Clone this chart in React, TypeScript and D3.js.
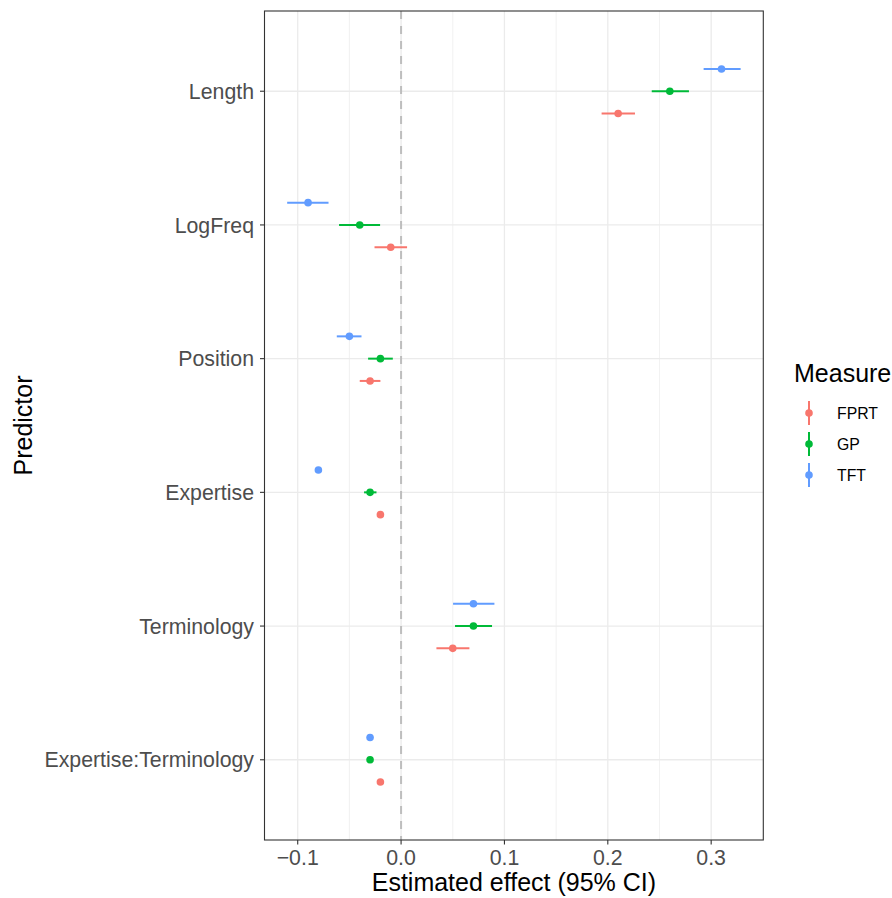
import React from "react";
import * as d3 from "d3";

// Predictors shown on the vertical axis, top to bottom
const predictors = [
  "Length",
  "LogFreq",
  "Position",
  "Expertise",
  "Terminology",
  "Expertise:Terminology",
];

// Eye-tracking measures (legend order)
const measures = ["FPRT", "GP", "TFT"];
const measureColors = ["#F8766D", "#00BA38", "#619CFF"];

// Estimates and 95% CI per measure, in predictor order
const fprtEst = [0.21, -0.01, -0.03, -0.02, 0.05, -0.02];
const fprtLow = [0.194, -0.0257, -0.04, -0.022, 0.0342, -0.022];
const fprtHigh = [0.2263, 0.0058, -0.02, -0.018, 0.0661, -0.018];

const gpEst = [0.26, -0.04, -0.02, -0.03, 0.07, -0.03];
const gpLow = [0.2425, -0.06, -0.0319, -0.0358, 0.0522, -0.032];
const gpHigh = [0.2785, -0.0203, -0.008, -0.0238, 0.088, -0.028];

const tftEst = [0.31, -0.09, -0.05, -0.08, 0.07, -0.03];
const tftLow = [0.2927, -0.1102, -0.0622, -0.082, 0.0503, -0.032];
const tftHigh = [0.3285, -0.0702, -0.0383, -0.078, 0.0903, -0.028];

const xTicks = [-0.1, 0, 0.1, 0.2, 0.3];
const xMinor = [-0.05, 0.05, 0.15, 0.25];

const W = 892;
const H = 898;
const panel = { left: 264.5, right: 763.3, top: 11, bottom: 840 };
const font = "'Liberation Sans', Arial, Helvetica, sans-serif";
const tickSize = 21.3;
const titleSize = 25;
const legendTextSize = 15.8;

type Row = { predictor: string; measure: string; est: number; low: number; high: number };

const series: [number[], number[], number[]][] = [
  [fprtEst, fprtLow, fprtHigh],
  [gpEst, gpLow, gpHigh],
  [tftEst, tftLow, tftHigh],
];

const rows: Row[] = [];
measures.forEach((m, mi) => {
  const [e, lo, hi] = series[mi];
  predictors.forEach((p, pi) => {
    rows.push({ predictor: p, measure: m, est: e[pi], low: lo[pi], high: hi[pi] });
  });
});

export default function App() {
  const lo = d3.min(rows, (r) => r.low) as number;
  const hi = d3.max(rows, (r) => r.high) as number;
  const pad = (hi - lo) * 0.05;
  const x = d3.scaleLinear().domain([lo - pad, hi + pad]).range([panel.left, panel.right]);

  const y = d3
    .scalePoint<string>()
    .domain(predictors)
    .range([panel.top, panel.bottom])
    .padding(0.6);
  const step = y.step();

  const dodge = d3
    .scaleBand<string>()
    .domain(measures)
    .range([step * 0.25, -step * 0.25]);
  const dodgeY = (m: string) => (dodge(m) as number) + dodge.bandwidth() / 2;

  const color = d3.scaleOrdinal<string, string>().domain(measures).range(measureColors);

  const tickFmt = (v: number) => d3.format(".1f")(v).replace("-", "\u2212");

  const legendX = 809;
  const legendY0 = 413;
  const legendStep = 31;

  return (
    <svg
      width={W}
      height={H}
      viewBox={`0 0 ${W} ${H}`}
      style={{ position: "absolute", left: 0, top: 0, background: "#fff" }}
    >
      <rect x={0} y={0} width={W} height={H} fill="#fff" />

      {/* grid */}
      {xMinor.map((v) => (
        <line key={`mn${v}`} x1={x(v)} x2={x(v)} y1={panel.top} y2={panel.bottom} stroke="#EBEBEB" strokeWidth={0.7} />
      ))}
      {xTicks.map((v) => (
        <line key={`mj${v}`} x1={x(v)} x2={x(v)} y1={panel.top} y2={panel.bottom} stroke="#EBEBEB" strokeWidth={1.3} />
      ))}
      {predictors.map((p) => (
        <line key={`h${p}`} x1={panel.left} x2={panel.right} y1={y(p)} y2={y(p)} stroke="#EBEBEB" strokeWidth={1.3} />
      ))}

      {/* reference line at zero */}
      <line
        x1={x(0)}
        x2={x(0)}
        y1={panel.top}
        y2={panel.bottom}
        stroke="#BEBEBE"
        strokeWidth={2}
        strokeDasharray="8 7"
      />

      {/* point ranges */}
      {rows.map((r, i) => {
        const cy = (y(r.predictor) as number) + dodgeY(r.measure);
        const c = color(r.measure);
        return (
          <g key={i}>
            <line x1={x(r.low)} x2={x(r.high)} y1={cy} y2={cy} stroke={c} strokeWidth={2} />
            <circle cx={x(r.est)} cy={cy} r={3.8} fill={c} />
          </g>
        );
      })}

      {/* panel border */}
      <rect
        x={panel.left}
        y={panel.top}
        width={panel.right - panel.left}
        height={panel.bottom - panel.top}
        fill="none"
        stroke="#333333"
        strokeWidth={1.1}
      />

      {/* x axis */}
      {xTicks.map((v) => (
        <g key={`xt${v}`}>
          <line x1={x(v)} x2={x(v)} y1={panel.bottom} y2={panel.bottom + 4.5} stroke="#333333" strokeWidth={1.1} />
          <text
            x={x(v)}
            y={panel.bottom + 24.5}
            textAnchor="middle"
            fontFamily={font}
            fontSize={tickSize}
            fill="#4D4D4D"
          >
            {tickFmt(v)}
          </text>
        </g>
      ))}
      <text
        x={(panel.left + panel.right) / 2}
        y={890.5}
        textAnchor="middle"
        fontFamily={font}
        fontSize={titleSize}
        fill="#000"
      >
        Estimated effect (95% CI)
      </text>

      {/* y axis */}
      {predictors.map((p) => (
        <g key={`yt${p}`}>
          <line x1={panel.left - 4.5} x2={panel.left} y1={y(p)} y2={y(p)} stroke="#333333" strokeWidth={1.1} />
          <text
            x={254}
            y={(y(p) as number) + 7.6}
            textAnchor="end"
            fontFamily={font}
            fontSize={tickSize}
            fill="#4D4D4D"
          >
            {p}
          </text>
        </g>
      ))}
      <text
        transform={`translate(31.5, ${(panel.top + panel.bottom) / 2}) rotate(-90)`}
        textAnchor="middle"
        fontFamily={font}
        fontSize={titleSize}
        fill="#000"
      >
        Predictor
      </text>

      {/* legend */}
      <text x={794} y={382} fontFamily={font} fontSize={titleSize} fill="#000">
        Measure
      </text>
      {measures.map((m, i) => {
        const cy = legendY0 + i * legendStep;
        const c = color(m);
        return (
          <g key={`lg${m}`}>
            <line x1={legendX} x2={legendX} y1={cy - 12} y2={cy + 12} stroke={c} strokeWidth={2} />
            <circle cx={legendX} cy={cy} r={3.8} fill={c} />
            <text x={837} y={cy + 5.6} fontFamily={font} fontSize={legendTextSize} fill="#000">
              {m}
            </text>
          </g>
        );
      })}
    </svg>
  );
}
